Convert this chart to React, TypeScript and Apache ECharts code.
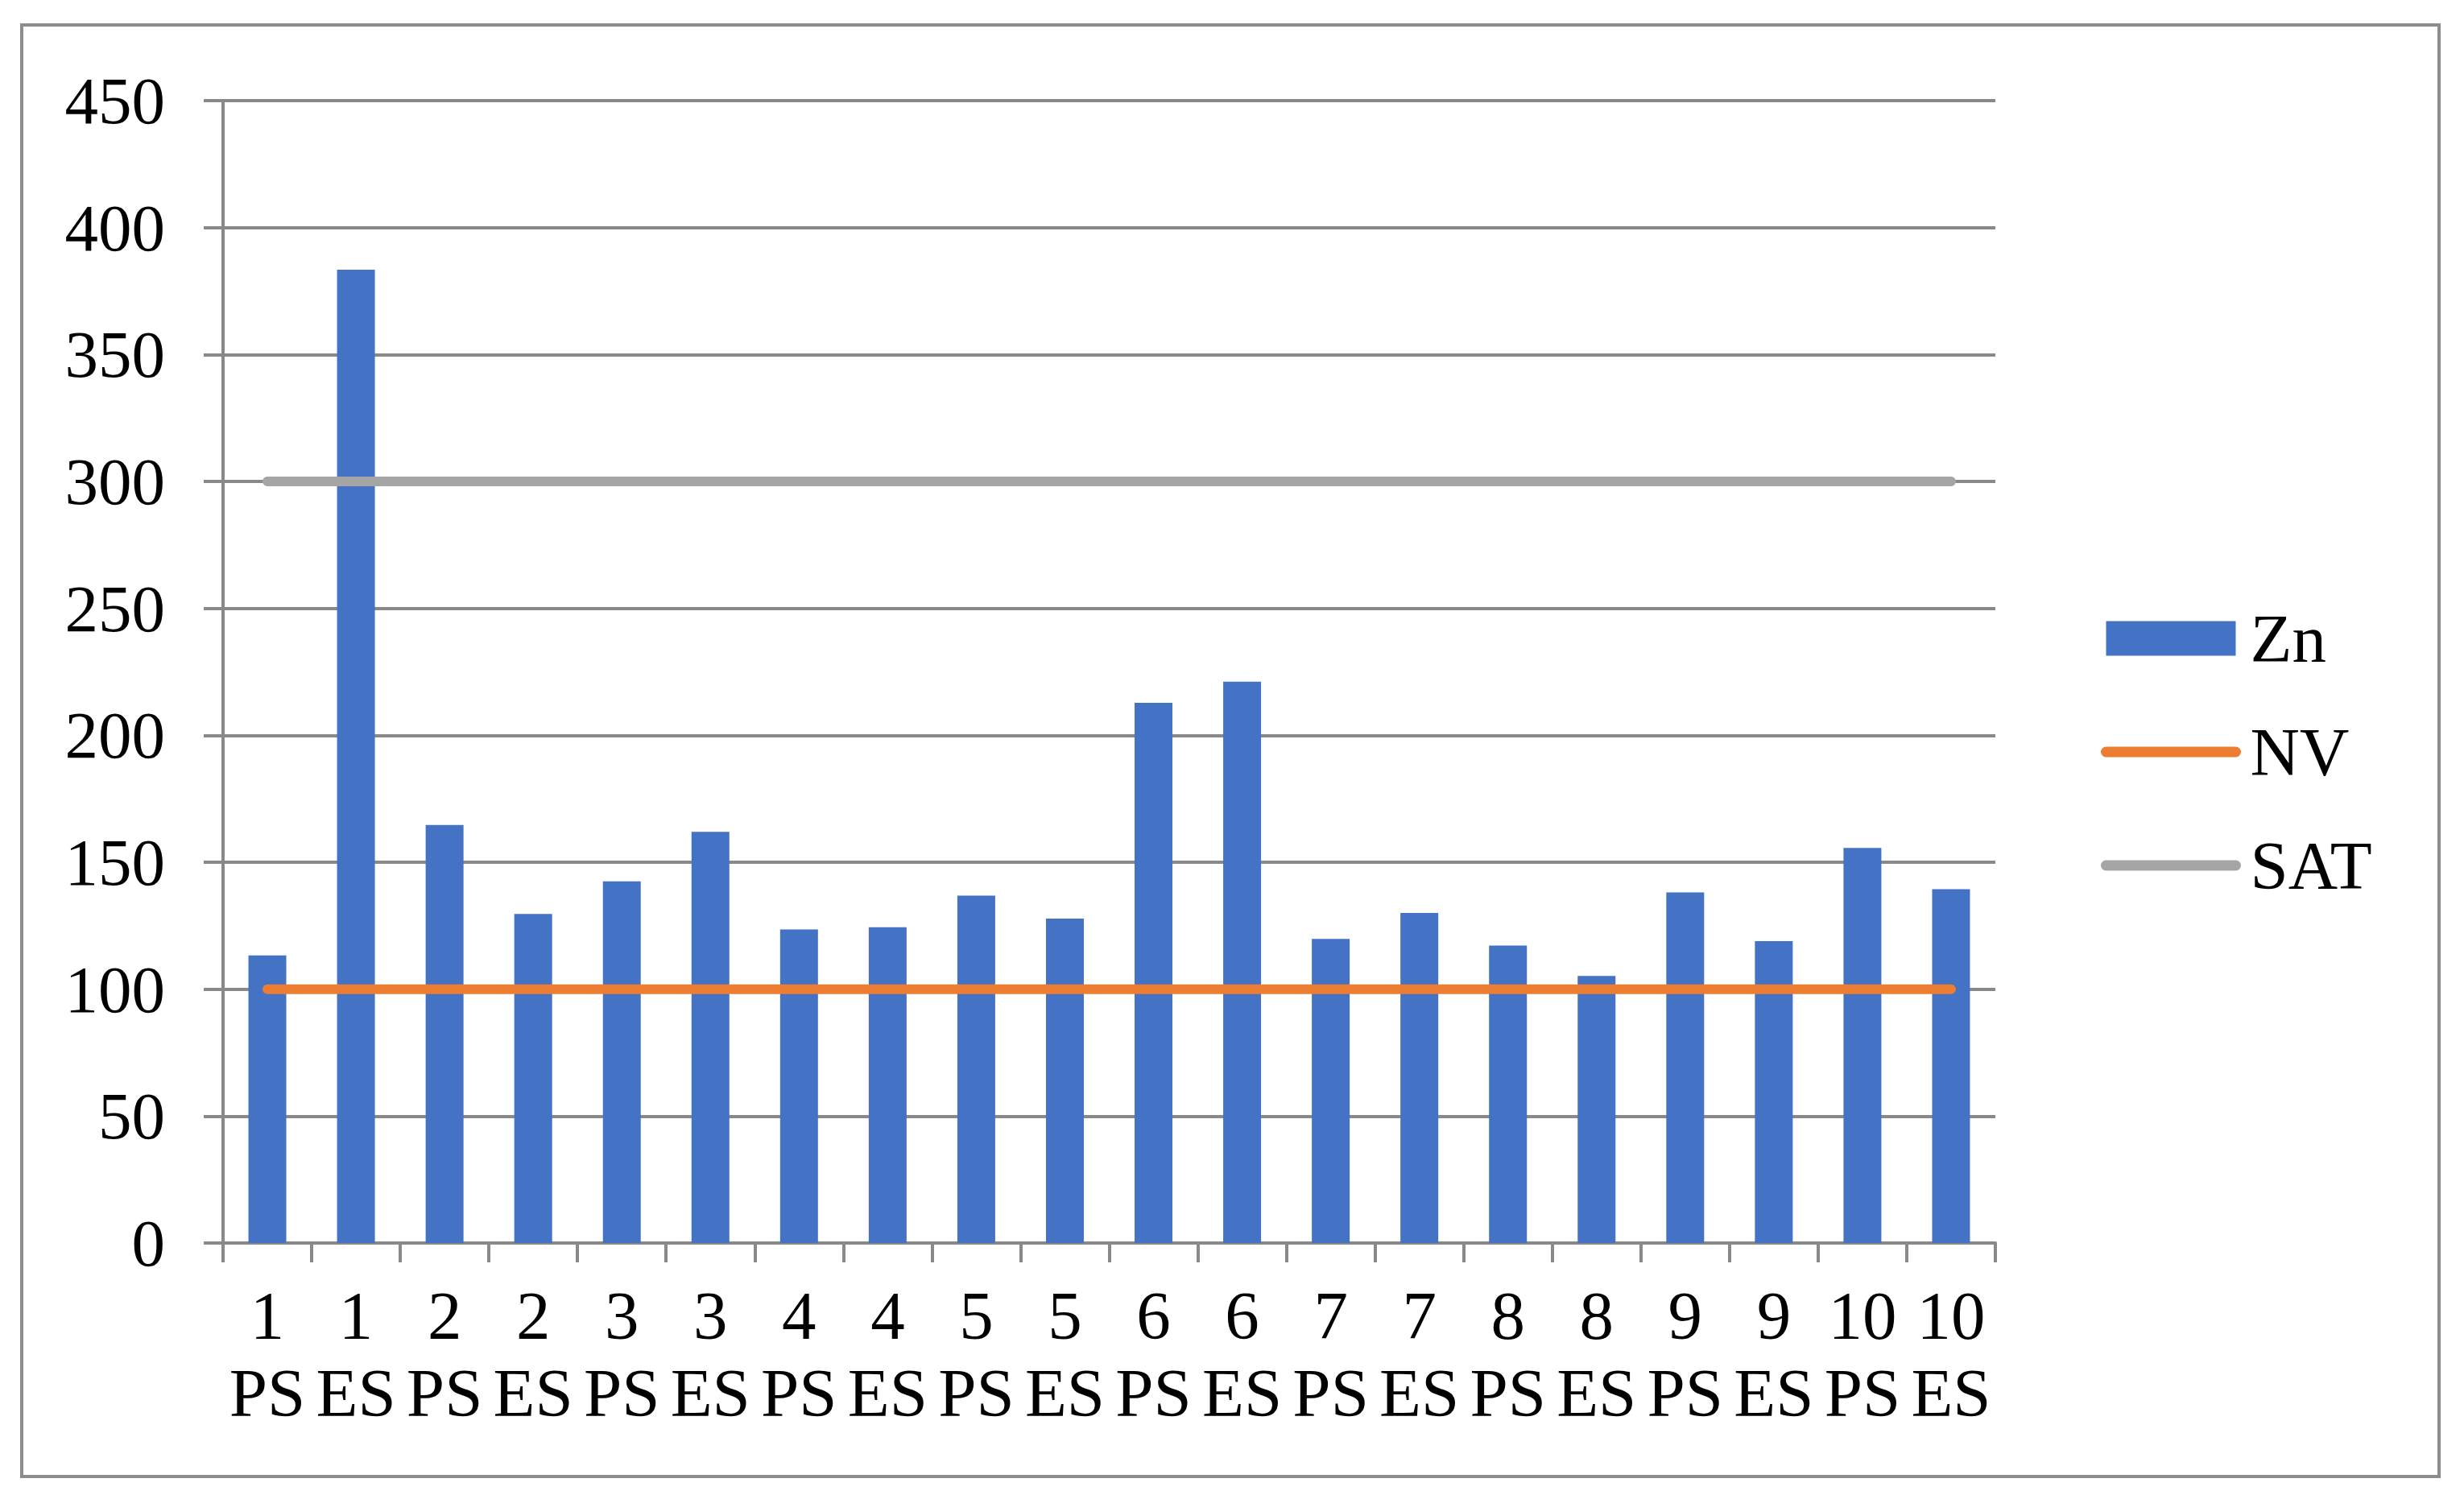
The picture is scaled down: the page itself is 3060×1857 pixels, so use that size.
import React, { useEffect, useRef } from "react";
import * as echarts from "echarts";

const categories = [
  "1\nPS", "1\nES", "2\nPS", "2\nES", "3\nPS", "3\nES", "4\nPS", "4\nES", "5\nPS", "5\nES",
  "6\nPS", "6\nES", "7\nPS", "7\nES", "8\nPS", "8\nES", "9\nPS", "9\nES", "10\nPS", "10\nES",
];
const znValues = [
  113.3, 383.4, 164.7, 129.6, 142.5, 162.0, 123.5, 124.4, 136.8, 127.8,
  212.8, 221.1, 119.8, 130.0, 117.2, 105.2, 138.1, 118.9, 155.6, 139.4,
];
const nvValues = [100, 100, 100, 100, 100, 100, 100, 100, 100, 100, 100, 100, 100, 100, 100, 100, 100, 100, 100, 100];
const satValues = [300, 300, 300, 300, 300, 300, 300, 300, 300, 300, 300, 300, 300, 300, 300, 300, 300, 300, 300, 300];
const yMin = 0;
const yMax = 450;
const yStep = 50;

const FONT = '"Liberation Serif", "Times New Roman", serif';
const GRAY = "#898989";

export default function App() {
  const ref = useRef<HTMLDivElement>(null);
  useEffect(() => {
    if (!ref.current) return;
    const chart = echarts.init(ref.current, null, { renderer: "svg" });
    chart.setOption({
      animation: false,
      backgroundColor: "#ffffff",
      textStyle: { fontFamily: FONT },
      graphic: [
        {
          type: "rect",
          shape: { x: 27, y: 31, width: 3002, height: 1803 },
          style: { fill: "none", stroke: "#8c8c8c", lineWidth: 4 },
          z: -1,
        },
      ],
      grid: { left: 277, top: 125, width: 2201, height: 1419 },
      legend: {
        orient: "vertical",
        left: 2604,
        top: 745,
        itemWidth: 161,
        itemHeight: 43,
        itemGap: 55,
        textStyle: {
          fontFamily: FONT,
          fontSize: 85,
          color: "#000",
          lineHeight: 86,
          padding: [0, 0, 0, 13],
        },
        data: [
          { name: "Zn", icon: "rect" },
          { name: "NV", itemStyle: { opacity: 0 }, lineStyle: { width: 13, cap: "round" } },
          { name: "SAT", itemStyle: { opacity: 0 }, lineStyle: { width: 13, cap: "round" } },
        ],
      },
      xAxis: {
        type: "category",
        data: categories,
        boundaryGap: true,
        axisLine: { show: true, lineStyle: { color: GRAY, width: 4 } },
        axisTick: { show: true, length: 24, lineStyle: { color: GRAY, width: 4 } },
        axisLabel: {
          interval: 0,
          margin: 42,
          fontFamily: FONT,
          fontSize: 85,
          lineHeight: 96,
          color: "#000",
        },
        splitLine: { show: false },
      },
      yAxis: {
        type: "value",
        min: yMin,
        max: yMax,
        interval: yStep,
        axisLine: { show: true, lineStyle: { color: GRAY, width: 4 } },
        axisTick: { show: true, length: 24, lineStyle: { color: GRAY, width: 4 } },
        axisLabel: { margin: 72, fontFamily: FONT, fontSize: 83, color: "#000" },
        splitLine: { show: true, lineStyle: { color: GRAY, width: 4 } },
      },
      series: [
        {
          name: "Zn",
          type: "bar",
          data: znValues,
          barWidth: 47,
          itemStyle: { color: "#4472C4" },
          z: 2,
        },
        {
          name: "NV",
          type: "line",
          data: nvValues,
          symbol: "none",
          lineStyle: { color: "#ED7D31", width: 12, cap: "round" },
          itemStyle: { color: "#ED7D31" },
          z: 3,
        },
        {
          name: "SAT",
          type: "line",
          data: satValues,
          symbol: "none",
          lineStyle: { color: "#A5A5A5", width: 12, cap: "round" },
          itemStyle: { color: "#A5A5A5" },
          z: 3,
        },
      ],
    });
    return () => chart.dispose();
  }, []);
  return (
    <div
      ref={ref}
      style={{ position: "absolute", left: 0, top: 0, width: 3060, height: 1857 }}
    />
  );
}
